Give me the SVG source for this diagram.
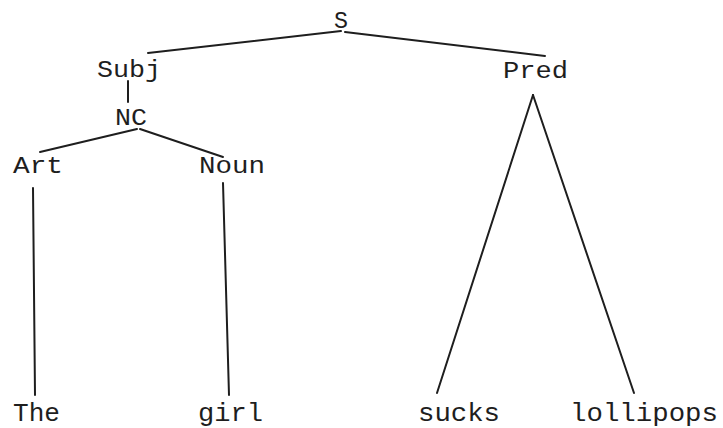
<svg xmlns="http://www.w3.org/2000/svg" width="723" height="428" viewBox="0 0 723 428">
<style>
.t{font-family:"Liberation Mono","DejaVu Sans Mono",monospace;font-size:24px;fill:#1e1e1e}
.b{font-size:26px}
.e{stroke:#1e1e1e;stroke-width:2;fill:none;stroke-linecap:round}
</style>
<rect width="723" height="428" fill="#ffffff"/>
<g id="connectors">
<line class="e" x1="341" y1="31" x2="148" y2="53"/>
<line class="e" x1="345" y1="32" x2="545" y2="56"/>
<line class="e" x1="128" y1="81" x2="128" y2="102"/>
<line class="e" x1="137" y1="129" x2="40" y2="152"/>
<line class="e" x1="140" y1="129" x2="223" y2="157"/>
<line class="e" x1="33" y1="188" x2="35" y2="395"/>
<line class="e" x1="223" y1="183" x2="229" y2="395"/>
<line class="e" x1="533" y1="95" x2="437" y2="393"/>
<line class="e" x1="533" y1="95" x2="634" y2="393"/>
</g>
<g id="S"><text class="t" x="334" y="28" textLength="14" lengthAdjust="spacingAndGlyphs">S</text></g>
<g id="Subj"><text class="t" x="97" y="77" textLength="64" lengthAdjust="spacingAndGlyphs">Subj</text></g>
<g id="NC"><text class="t" x="115" y="125" textLength="32" lengthAdjust="spacingAndGlyphs">NC</text></g>
<g id="Art"><text class="t" x="13" y="173" textLength="50" lengthAdjust="spacingAndGlyphs">Art</text></g>
<g id="Noun"><text class="t" x="199" y="173" textLength="66" lengthAdjust="spacingAndGlyphs">Noun</text></g>
<g id="Pred"><text class="t" x="503" y="78" textLength="65" lengthAdjust="spacingAndGlyphs">Pred</text></g>
<g id="The"><text class="t b" x="13" y="421" textLength="47" lengthAdjust="spacingAndGlyphs">The</text></g>
<g id="girl"><text class="t b" x="198" y="421" textLength="65" lengthAdjust="spacingAndGlyphs">girl</text></g>
<g id="sucks"><text class="t b" x="418" y="421" textLength="82" lengthAdjust="spacingAndGlyphs">sucks</text></g>
<g id="lollipops"><text class="t b" x="570" y="421" textLength="148" lengthAdjust="spacingAndGlyphs">lollipops</text></g>
</svg>
